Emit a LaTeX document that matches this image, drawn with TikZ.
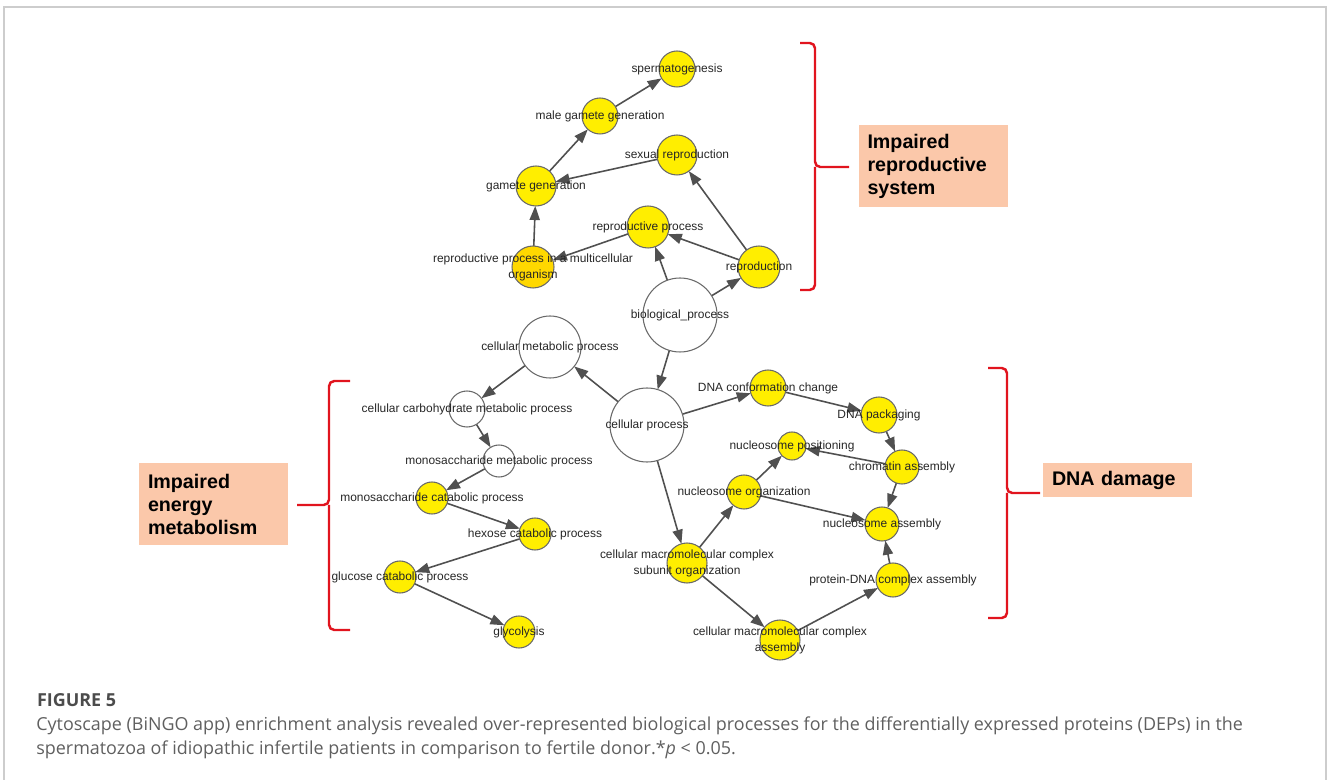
\documentclass[tikz,border=0pt]{standalone}
\usepackage{fontspec}
\setmainfont{Liberation Sans}
\newfontfamily\capfont{Open Sans}
\usepackage{tikz-network}
\usetikzlibrary{arrows.meta}

\definecolor{nodeyellow}{RGB}{255,238,0}
\definecolor{nodegold}{RGB}{255,216,0}
\definecolor{nodeline}{RGB}{105,105,105}
\definecolor{edgegrey}{RGB}{80,80,80}
\definecolor{bracered}{RGB}{225,20,30}
\definecolor{boxpeach}{RGB}{251,200,170}
\definecolor{framegrey}{RGB}{205,205,205}
\definecolor{capgrey}{RGB}{95,95,95}

\tikzset{
  bingo/.style={-{Triangle[length=8pt,width=5.8pt]}},
  brace/.style={draw=bracered, line width=1.4pt, rounded corners=3pt},
  groupbox/.style={fill=boxpeach, font=\bfseries\fontsize{11.2}{13.3}\selectfont, align=left, inner xsep=0.18cm, text width=2.62cm, minimum height=1.64cm},
  captext/.style={anchor=base west, inner sep=0, text=capgrey, font=\capfont\fontsize{10.2}{12}\selectfont}
}

\newcommand{\twoline}[2]{\begin{tabular}{@{}c@{}}#1\\#2\end{tabular}}

\begin{document}
\begin{tikzpicture}

\useasboundingbox (0,0) rectangle (26.56,-15.6);
\draw[framegrey, line width=0.85pt] (0.08,-15.8) -- (0.08,-0.14) -- (26.52,-0.14) -- (26.52,-15.8);

\SetVertexStyle[Shape=circle, LineWidth=0.6, LineColor=nodeline, FillColor=nodeyellow, TextFont=\fontsize{6.8}{9}\selectfont, TextColor=black!85, InnerSep=0, OuterSep=0]
\SetEdgeStyle[Color=edgegrey, LineWidth=0.9]

% reproduction branch
\Vertex[x=13.54,y=-1.38,size=0.72,label=spermatogenesis,position=center]{sperm}
\Vertex[x=12.00,y=-2.32,size=0.72,label=male gamete generation,position=center]{malegam}
\Vertex[x=13.54,y=-3.10,size=0.80,label=sexual reproduction,position=center]{sexrep}
\Vertex[x=10.72,y=-3.72,size=0.80,label=gamete generation,position=center]{gamgen}
\Vertex[x=12.96,y=-4.54,size=0.84,label=reproductive process,position=center]{repproc}
\Vertex[x=10.66,y=-5.34,size=0.84,color=nodegold,label={\twoline{reproductive process in a multicellular}{organism}},position=center]{reporg}
\Vertex[x=15.18,y=-5.34,size=0.84,label=reproduction,position=center]{repro}
\Vertex[x=13.60,y=-6.30,size=1.48,color=white,label=biological\_process,position=center]{bio}
\Vertex[x=12.94,y=-8.50,size=1.48,color=white,label=cellular process,position=center]{cell}

% metabolism branch
\Vertex[x=11.00,y=-6.94,size=1.24,color=white,label=cellular metabolic process,position=center]{cellmet}
\Vertex[x=9.34,y=-8.18,size=0.72,color=white,label=cellular carbohydrate metabolic process,position=center]{carbmet}
\Vertex[x=9.98,y=-9.22,size=0.64,color=white,label=monosaccharide metabolic process,position=center]{monomet}
\Vertex[x=8.64,y=-9.96,size=0.64,label=monosaccharide catabolic process,position=center]{monocat}
\Vertex[x=10.70,y=-10.68,size=0.64,label=hexose catabolic process,position=center]{hexcat}
\Vertex[x=8.00,y=-11.54,size=0.64,label=glucose catabolic process,position=center]{glucat}
\Vertex[x=10.38,y=-12.64,size=0.64,label=glycolysis,position=center]{glyco}

% DNA branch
\Vertex[x=13.74,y=-11.26,size=0.80,label={\twoline{cellular macromolecular complex}{subunit organization}},position=center]{subunit}
\Vertex[x=15.36,y=-7.76,size=0.72,label=DNA conformation change,position=center]{dnaconf}
\Vertex[x=17.58,y=-8.30,size=0.72,label=DNA packaging,position=center]{dnapack}
\Vertex[x=15.84,y=-8.92,size=0.56,label=nucleosome positioning,position=center]{nucpos}
\Vertex[x=18.04,y=-9.34,size=0.68,label=chromatin assembly,position=center]{chrom}
\Vertex[x=14.88,y=-9.84,size=0.68,label=nucleosome organization,position=center]{nucorg}
\Vertex[x=17.64,y=-10.48,size=0.68,label=nucleosome assembly,position=center]{nucass}
\Vertex[x=17.86,y=-11.60,size=0.68,label=protein-DNA complex assembly,position=center]{protdna}
\Vertex[x=15.60,y=-12.80,size=0.80,label={\twoline{cellular macromolecular complex}{assembly}},position=center]{cplxass}

\Edge[Direct,style=bingo](malegam)(sperm)
\Edge[Direct,style=bingo](gamgen)(malegam)
\Edge[Direct,style=bingo](sexrep)(gamgen)
\Edge[Direct,style=bingo](reporg)(gamgen)
\Edge[Direct,style=bingo](repproc)(reporg)
\Edge[Direct,style=bingo](repro)(repproc)
\Edge[Direct,style=bingo](repro)(sexrep)
\Edge[Direct,style=bingo](bio)(repproc)
\Edge[Direct,style=bingo](bio)(repro)
\Edge[Direct,style=bingo](bio)(cell)
\Edge[Direct,style=bingo](cell)(cellmet)
\Edge[Direct,style=bingo](cellmet)(carbmet)
\Edge[Direct,style=bingo](carbmet)(monomet)
\Edge[Direct,style=bingo](monomet)(monocat)
\Edge[Direct,style=bingo](monocat)(hexcat)
\Edge[Direct,style=bingo](hexcat)(glucat)
\Edge[Direct,style=bingo](glucat)(glyco)
\Edge[Direct,style=bingo](cell)(dnaconf)
\Edge[Direct,style=bingo](cell)(subunit)
\Edge[Direct,style=bingo](dnaconf)(dnapack)
\Edge[Direct,style=bingo](dnapack)(chrom)
\Edge[Direct,style=bingo](chrom)(nucpos)
\Edge[Direct,style=bingo](chrom)(nucass)
\Edge[Direct,style=bingo](subunit)(nucorg)
\Edge[Direct,style=bingo](nucorg)(nucpos)
\Edge[Direct,style=bingo](nucorg)(nucass)
\Edge[Direct,style=bingo](subunit)(cplxass)
\Edge[Direct,style=bingo](cplxass)(protdna)
\Edge[Direct,style=bingo](protdna)(nucass)

% brackets and group labels
\draw[brace] (16.00,-0.86) -- (16.30,-0.86) -- (16.30,-3.34) -- (16.98,-3.34);
\draw[brace] (16.00,-5.80) -- (16.30,-5.80) -- (16.30,-3.34);
\draw[brace] (7.00,-7.62) -- (6.58,-7.62) -- (6.58,-10.10) -- (5.94,-10.10);
\draw[brace] (7.00,-12.60) -- (6.58,-12.60) -- (6.58,-10.10);
\draw[brace] (19.76,-7.36) -- (20.14,-7.36) -- (20.14,-9.86) -- (20.80,-9.86);
\draw[brace] (19.76,-12.36) -- (20.14,-12.36) -- (20.14,-9.86);

\node[groupbox] (reprobox) at (18.66,-3.33) {Impaired\\reproductive\\system};
\node[groupbox] (energybox) at (4.27,-10.09) {Impaired\\energy\\metabolism};
\node[groupbox, minimum height=0.68cm] (dnabox) at (22.35,-9.60) {DNA damage};

% caption
\node[captext, font=\capfont\fontsize{10.2}{12}\selectfont\bfseries, text=black!70] (figno) at (0.734,-14.12) {FIGURE 5};
\node[captext] (capa) at (0.72,-14.60) {Cytoscape (BiNGO app) enrichment analysis revealed over-represented biological processes for the differentially expressed proteins (DEPs) in the};
\node[captext] (capb) at (0.72,-15.08) {spermatozoa of idiopathic infertile patients in comparison to fertile donor.*\textit{p} < 0.05.};

\end{tikzpicture}
\end{document}
